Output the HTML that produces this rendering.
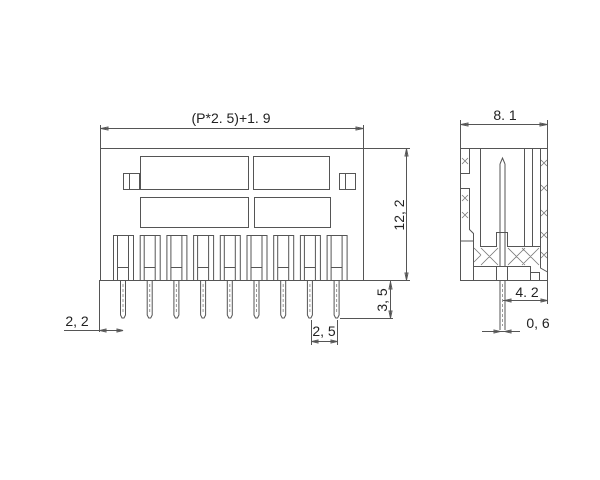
<!DOCTYPE html>
<html><head><style>body{margin:0;background:#fff}svg{display:block}</style></head><body>
<svg width="600" height="480" viewBox="0 0 600 480" xmlns="http://www.w3.org/2000/svg" font-family="Liberation Sans, sans-serif" fill="none" stroke="#555" stroke-width="1">
<rect x="0" y="0" width="600" height="480" fill="#fff" stroke="none"/>
<rect x="100.5" y="148.5" width="263" height="132"/>
<rect x="140.5" y="156.5" width="108" height="33"/>
<rect x="253.5" y="156.5" width="76" height="33"/>
<rect x="140.5" y="197.5" width="108" height="30"/>
<rect x="254.5" y="197.5" width="76" height="30"/>
<rect x="123.5" y="173.5" width="16" height="16"/><line x1="129.5" y1="173" x2="129.5" y2="190"/>
<rect x="339.5" y="173.5" width="16" height="16"/><line x1="345.5" y1="173" x2="345.5" y2="190"/>
<g id="slot">
<rect x="113.5" y="235.5" width="20" height="45"/>
<line x1="117.5" y1="235" x2="117.5" y2="280"/><line x1="128.5" y1="235" x2="128.5" y2="280"/>
<line x1="117.5" y1="267.5" x2="128.5" y2="267.5"/>
<path d="M120.5 281 V315 L122 318 H124 L125.5 315 V281"/>
<line x1="123" y1="284" x2="123" y2="314" stroke-dasharray="3,2" stroke="#999"/>
</g>
<use href="#slot" x="26.7"/><use href="#slot" x="53.4"/><use href="#slot" x="80.1"/><use href="#slot" x="106.8"/><use href="#slot" x="133.5"/><use href="#slot" x="160.2"/><use href="#slot" x="186.9"/><use href="#slot" x="213.6"/>
<line x1="100.5" y1="125" x2="100.5" y2="148"/><line x1="363.5" y1="125" x2="363.5" y2="148"/>
<line x1="100" y1="128.5" x2="364" y2="128.5"/>
<path d="M101 128.5 l7 -1.5 v3 z M363 128.5 l-7 -1.5 v3 z"/>
<text x="231" y="123" font-size="14" fill="#222" stroke="none" text-anchor="middle">(P*2. 5)+1. 9</text>
<line x1="364" y1="148.5" x2="410" y2="148.5"/><line x1="364" y1="280.5" x2="410" y2="280.5"/>
<line x1="406.5" y1="148" x2="406.5" y2="281"/>
<path d="M406.5 149 l-1.5 7 h3 z M406.5 280 l-1.5 -7 h3 z"/>
<text x="0" y="0" font-size="14" fill="#222" stroke="none" text-anchor="middle" transform="translate(404 215) rotate(-90)">12, 2</text>
<line x1="340" y1="318.5" x2="393" y2="318.5"/>
<line x1="390.5" y1="281" x2="390.5" y2="319"/>
<path d="M390.5 282 l-1.5 7 h3 z M390.5 318 l-1.5 -7 h3 z"/>
<text x="0" y="0" font-size="14" fill="#222" stroke="none" text-anchor="middle" transform="translate(387 300) rotate(-90)">3, 5</text>
<line x1="311.5" y1="320" x2="311.5" y2="345"/><line x1="337.5" y1="320" x2="337.5" y2="345"/>
<line x1="311" y1="341.5" x2="338" y2="341.5"/>
<path d="M312 341.5 l6 -1.5 v3 z M337 341.5 l-6 -1.5 v3 z"/>
<text x="324" y="336" font-size="14" fill="#222" stroke="none" text-anchor="middle">2, 5</text>
<line x1="99.5" y1="280" x2="99.5" y2="332"/>
<line x1="64" y1="330.5" x2="123" y2="330.5"/>
<path d="M100 330.5 l6 -1.5 v3 z M123 330.5 l-6 -1.5 v3 z"/>
<text x="77" y="326" font-size="14" fill="#222" stroke="none" text-anchor="middle">2, 2</text>
<line x1="460.5" y1="120" x2="460.5" y2="148"/><line x1="547.5" y1="120" x2="547.5" y2="148"/>
<line x1="460" y1="124.5" x2="548" y2="124.5"/>
<path d="M461 124.5 l7 -1.5 v3 z M547 124.5 l-7 -1.5 v3 z"/>
<text x="505" y="120" font-size="14" fill="#222" stroke="none" text-anchor="middle">8. 1</text>
<path d="M460.5 148.5 H547.5 V280.5 H460.5 Z"/>
<path d="M469.5 148.5 V173.5 H460.5 M460.5 188.5 H469.5 V229.5 L473.5 233.5 V280.5 M473.5 241 H460.5"/>
<path d="M480.5 148.5 V246.5 H496.5 V232.5 H507.5 V246.5 H540.5 V148.5 M524.5 148.5 V246.5 M532.5 148.5 V246.5"/>
<path d="M473.5 266.5 H530.5 V280.5 M530.5 272.5 H539.5 V280.5 M540.5 246.5 V268 L547.5 272"/>
<line x1="496.5" y1="266.5" x2="496.5" y2="280.5"/><line x1="507.5" y1="266.5" x2="507.5" y2="280.5"/>
<g stroke="#777" stroke-width="0.8">
<path d="M462 158 l6 6 m0 -6 l-6 6 M462 195 l6 6 m0 -6 l-6 6 M462 212 l6 6 m0 -6 l-6 6"/>
<path d="M541 160 l6 6 m0 -6 l-6 6 M541 185 l6 6 m0 -6 l-6 6 M541 210 l6 6 m0 -6 l-6 6 M541 232 l6 6 m0 -6 l-6 6"/>
<path d="M481 248 l17 17 m0 -17 l-17 17 M508 248 l17 17 m0 -17 l-17 17 M522 248 l17 17 m0 -17 l-17 17 M474 248 l7 7 M474 262 l7 -7 M541 252 l6 6 m0 -6 l-6 6"/>
</g>
<path d="M500 164 V266 M505 164 V266 M500 164 L502.5 158 L505 164"/>
<path d="M500 280 V330 M505 280 V330"/>
<line x1="502.5" y1="284" x2="502.5" y2="326" stroke-dasharray="3,2" stroke="#999"/>
<line x1="547.5" y1="281" x2="547.5" y2="304"/>
<line x1="503" y1="300.5" x2="548" y2="300.5"/>
<path d="M505 300.5 l6 -1.5 v3 z M547 300.5 l-6 -1.5 v3 z"/>
<text x="527" y="297" font-size="14" fill="#222" stroke="none" text-anchor="middle">4. 2</text>
<line x1="482" y1="331.5" x2="520" y2="331.5"/>
<path d="M500 331.5 l-6 -1.5 v3 z M505 331.5 l6 -1.5 v3 z"/>
<text x="538" y="328" font-size="14" fill="#222" stroke="none" text-anchor="middle">0, 6</text>
</svg>
</body></html>
